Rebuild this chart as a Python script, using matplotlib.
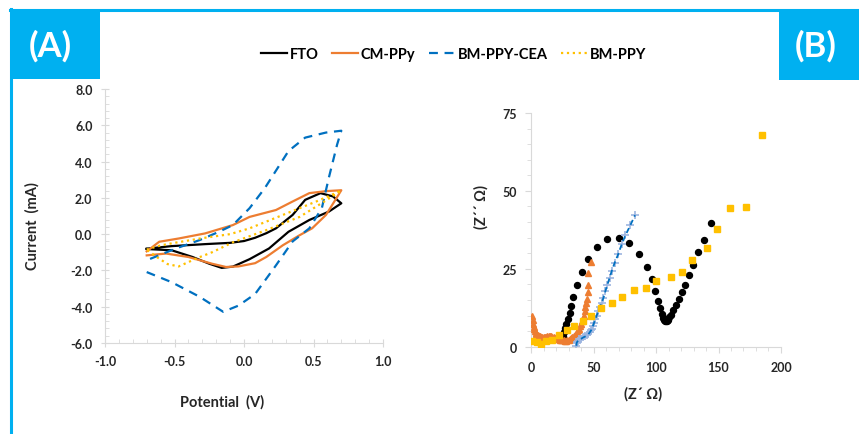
import matplotlib
matplotlib.use("Agg")
import matplotlib.pyplot as plt
from matplotlib.patches import Rectangle
from matplotlib.lines import Line2D
from matplotlib.ticker import MultipleLocator, FormatStrFormatter

plt.rcParams['font.family'] = ['Lato', 'DejaVu Sans']
plt.rcParams['font.weight'] = 'bold'

# ---- (A) cyclic voltammetry, potential (V) vs current (mA) ----
fto_v = [-0.70, -0.52, -0.28, -0.10, 0.00, 0.08, 0.16, 0.23, 0.35, 0.44, 0.55, 0.64, 0.70,
         0.61, 0.47, 0.32, 0.18, 0.04, -0.08, -0.16, -0.25, -0.37, -0.52, -0.70]
fto_i = [-0.80, -0.66, -0.55, -0.48, -0.38, -0.20, 0.05, 0.32, 1.06, 1.89, 2.26, 2.08, 1.70,
         1.24, 0.78, 0.13, -0.79, -1.38, -1.79, -1.86, -1.63, -1.26, -0.89, -0.82]

cm_v = [-0.70, -0.61, -0.47, -0.28, -0.08, 0.04, 0.23, 0.35, 0.47, 0.59, 0.70,
        0.65, 0.59, 0.49, 0.40, 0.28, 0.16, 0.08, -0.04, -0.13, -0.23, -0.40, -0.56, -0.70]
cm_i = [-0.95, -0.42, -0.24, 0.04, 0.50, 0.95, 1.33, 1.80, 2.26, 2.37, 2.42,
        1.80, 1.06, 0.32, -0.06, -0.61, -1.26, -1.60, -1.78, -1.81, -1.63, -1.26, -1.07, -1.17]

cea_v = [-0.70, -0.52, -0.32, -0.15, -0.04, 0.08, 0.16, 0.23, 0.35, 0.47, 0.56, 0.61, 0.67, 0.70,
         0.59, 0.44, 0.32, 0.15, 0.04, -0.08, -0.18, -0.32, -0.49, -0.70]
cea_i = [-2.09, -2.65, -3.45, -4.28, -3.94, -3.30, -2.46, -1.72, -0.40, 0.32, 1.43, 3.10, 4.94, 5.70,
         5.60, 5.32, 4.58, 2.54, 1.43, 0.50, 0.13, -0.33, -0.79, -1.44]

ppy_v = [-0.70, -0.60, -0.50, -0.30, -0.10, 0.04, 0.28, 0.52, 0.70,
         0.52, 0.40, 0.16, -0.08, -0.23, -0.33, -0.47, -0.55, -0.63, -0.70]
ppy_i = [-0.85, -0.62, -0.48, -0.22, 0.00, 0.32, 1.06, 1.80, 2.40,
         1.52, 0.95, 0.22, -0.45, -1.00, -1.30, -1.78, -1.65, -1.25, -0.85]

# ---- (B) Nyquist plot, Z' vs Z'' (ohm) ----
fto_zr = [25.9, 26.4, 27.5, 28.3, 29.6, 30.9, 31.7, 33.6, 37.0, 40.5, 45.6, 52.5, 61.1, 70.4,
          78.6, 86.7, 92.5, 96.5, 99.2, 101.9, 103.2, 104.5, 105.9, 106.6, 107.2, 107.8, 108.5,
          109.2, 109.9, 110.7, 111.7, 113.9, 116.0, 118.1, 120.5, 123.2, 126.7, 129.9, 133.9,
          138.4, 143.7]
fto_zi = [3.3, 4.6, 5.9, 7.3, 8.9, 10.8, 13.2, 16.1, 19.8, 23.9, 28.2, 32.0, 34.5, 35.0,
          33.4, 29.9, 25.7, 21.6, 17.9, 14.8, 12.4, 10.5, 9.1, 8.7, 8.4, 8.2, 8.4,
          8.6, 9.0, 9.5, 10.2, 11.9, 13.4, 15.4, 17.5, 19.9, 22.9, 26.1, 30.4,
          34.1, 39.8]

cm_zr = [0.8, 1.2, 1.6, 2.0, 2.4, 3.0, 3.6, 4.3, 5.2, 6.1, 7.0, 8.0, 9.0, 10.0, 11.0, 12.0,
         13.0, 14.0, 15.0, 16.0, 17.0, 18.0, 19.0, 20.0, 21.0, 22.0, 23.0, 24.0, 25.0, 26.0,
         27.0, 28.0, 29.0, 30.0, 31.0, 32.0, 33.0, 34.0, 35.0, 36.0, 37.0, 37.6, 38.5, 39.3,
         40.3, 41.0, 41.8, 42.4, 43.0, 43.5, 44.0, 44.5, 45.2, 45.6, 45.9, 47.8]
cm_zi = [10.0, 8.6, 7.3, 6.4, 5.7, 4.9, 4.4, 4.0, 3.7, 3.4, 3.3, 3.2, 3.1, 3.1, 3.1, 3.2,
         3.3, 3.4, 3.4, 3.3, 3.2, 3.0, 2.9, 2.7, 2.6, 2.5, 2.3, 2.2, 2.1, 2.0,
         1.9, 1.9, 2.0, 2.2, 2.4, 2.7, 3.0, 3.3, 3.6, 4.1, 4.6, 5.2, 5.8, 6.5,
         7.3, 8.2, 9.1, 10.0, 11.4, 12.7, 14.0, 15.4, 17.6, 19.9, 23.7, 27.2]

cea_zr = [36.3, 36.5, 37.0, 37.6, 38.7, 40.3, 41.9, 43.5, 45.0, 45.9, 47.0, 48.0, 48.5, 49.5,
          50.4, 51.5, 52.5, 53.8, 55.2, 56.5, 57.9, 59.5, 61.1, 62.8, 64.5, 67.0, 69.9, 72.5,
          75.5, 79.5, 83.2]
cea_zi = [0.3, 1.2, 1.6, 1.9, 2.4, 2.6, 3.0, 3.3, 3.6, 4.0, 4.6, 5.2, 5.7, 6.6,
          7.6, 8.8, 10.0, 11.3, 12.7, 14.1, 15.6, 17.8, 19.9, 22.0, 24.2, 27.0, 29.8, 32.8,
          35.7, 39.0, 42.2]

ppy_zr = [0.5, 4.5, 8.0, 12.0, 16.5, 22.0, 28.5, 34.4, 41.3, 47.7, 55.7, 64.5, 72.5, 82.4,
          92.0, 100.0, 111.7, 120.5, 128.5, 141.0, 148.5, 159.5, 171.7, 184.5]
ppy_zi = [1.9, 1.4, 0.9, 1.7, 2.3, 3.8, 5.2, 6.8, 8.4, 10.0, 12.4, 14.0, 16.1, 18.3,
          18.9, 21.2, 22.3, 24.0, 27.7, 31.7, 37.7, 44.6, 44.9, 67.9]

BLUE_FRAME = '#00B0F0'
AXIS_GREY = '#D9D9D9'
TXT = '#262626'

fig = plt.figure(figsize=(8.59, 4.35), dpi=100)

# frame lines and the (A)/(B) tabs
fig.add_artist(Line2D([10 / 859, 1.0], [1 - 11 / 435, 1 - 11 / 435], color=BLUE_FRAME, lw=2.2))
fig.add_artist(Line2D([11 / 859, 11 / 859], [1 - 10 / 435, 0.0], color=BLUE_FRAME, lw=2.2))
fig.add_artist(Rectangle((10 / 859, 1 - 80 / 435), 90 / 859, 70 / 435,
                         transform=fig.transFigure, color=BLUE_FRAME, lw=0))
fig.add_artist(Rectangle((779 / 859, 1 - 81 / 435), 80 / 859, 71 / 435,
                         transform=fig.transFigure, color=BLUE_FRAME, lw=0))
fig.text(50 / 859, 1 - 46 / 435, '(A)', color='white', fontsize=25, fontweight='bold',
         ha='center', va='center')
fig.text(816 / 859, 1 - 46 / 435, '(B)', color='white', fontsize=25, fontweight='bold',
         ha='center', va='center')

# ---------- panel A ----------
ax1 = fig.add_axes([105 / 859, 1 - 344 / 435, 278 / 859, 254 / 435])
l_fto, = ax1.plot(fto_v, fto_i, color='black', lw=1.6, label='FTO')
l_cm, = ax1.plot(cm_v, cm_i, color='#ED7D31', lw=1.6, label='CM-PPy')
l_cea, = ax1.plot(cea_v, cea_i, color='#0070C0', lw=1.6, dashes=(4, 3), label='BM-PPY-CEA')
l_ppy, = ax1.plot(ppy_v, ppy_i, color='#FFC000', lw=1.6, linestyle=':', label='BM-PPY')

ax1.set_xlim(-1.0, 1.0)
ax1.set_ylim(-6.0, 8.0)
ax1.xaxis.set_major_locator(MultipleLocator(0.5))
ax1.xaxis.set_minor_locator(MultipleLocator(0.1))
ax1.yaxis.set_major_locator(MultipleLocator(2.0))
ax1.yaxis.set_minor_locator(MultipleLocator(0.4))
ax1.xaxis.set_major_formatter(FormatStrFormatter('%.1f'))
ax1.yaxis.set_major_formatter(FormatStrFormatter('%.1f'))
ax1.tick_params(which='major', direction='inout', length=6, color=AXIS_GREY,
                labelsize=9, labelcolor=TXT, pad=6)
ax1.tick_params(which='minor', direction='in', length=3, color=AXIS_GREY)
ax1.set_xlabel('Potential  (V)', fontsize=10.5, fontweight='bold', color=TXT)
ax1.set_ylabel('Current  (mA)', fontsize=10.5, fontweight='bold', color=TXT)
ax1.xaxis.set_label_coords(0.42, -0.2)
ax1.yaxis.set_label_coords(-0.235, 0.465)

# ---------- panel B ----------
ax2 = fig.add_axes([531 / 859, 1 - 347.7 / 435, 250 / 859, 233.7 / 435])
ax2.plot(fto_zr, fto_zi, linestyle='none', marker='o', ms=4.3, color='black')
ax2.plot(cm_zr, cm_zi, linestyle='none', marker='^', ms=4.0, color='#ED7D31')
ax2.plot(cea_zr, cea_zi, linestyle='none', marker='+', ms=5.5, mec='#9DB5E0', mew=1.2)
ax2.plot(cea_zr, cea_zi, color='#0070C0', lw=1.3, dashes=(3, 2))
ax2.plot(ppy_zr, ppy_zi, linestyle='none', marker='s', ms=5, color='#FFC000')

ax2.set_xlim(0, 200)
ax2.set_ylim(0, 75)
ax2.xaxis.set_major_locator(MultipleLocator(50))
ax2.xaxis.set_minor_locator(MultipleLocator(10))
ax2.yaxis.set_major_locator(MultipleLocator(25))
ax2.yaxis.set_minor_locator(MultipleLocator(5))
ax2.tick_params(which='major', direction='out', length=4, color=AXIS_GREY,
                labelsize=9, labelcolor=TXT, pad=6)
ax2.tick_params(which='minor', direction='out', length=3, color=AXIS_GREY)
ax2.set_xlabel('(Z\u00b4 \u03a9)', fontsize=10.5, fontweight='bold', color=TXT)
ax2.set_ylabel('(Z\u00b4\u00b4 \u03a9)', fontsize=10.5, fontweight='bold', color=TXT)
ax2.xaxis.set_label_coords(0.448, -0.17)
ax2.yaxis.set_label_coords(-0.17, 0.6)

for ax in (ax1, ax2):
    ax.spines['top'].set_visible(False)
    ax.spines['right'].set_visible(False)
    ax.spines['left'].set_color(AXIS_GREY)
    ax.spines['bottom'].set_color(AXIS_GREY)
    ax.spines['left'].set_zorder(0)
    ax.spines['bottom'].set_zorder(0)
    ax.set_facecolor('none')

fig.legend(handles=[l_fto, l_cm, l_cea, l_ppy], loc='center', bbox_to_anchor=(0.528, 1 - 55 / 435),
           ncol=4, frameon=False, handlelength=1.8, handletextpad=0.2, columnspacing=0.9,
           prop={'size': 10.5, 'weight': 'bold'})

fig.savefig('out.png', dpi=100)
